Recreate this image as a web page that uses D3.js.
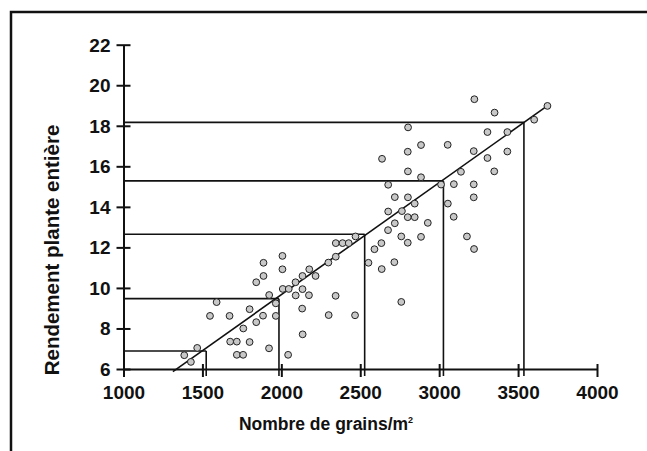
<!DOCTYPE html>
<html>
<head>
<meta charset="utf-8">
<script src="https://cdn.jsdelivr.net/npm/d3@7"></script>
<style>
  html, body { margin: 0; padding: 0; background: #fff; }
  svg { display: block; }
  text { font-family: "Liberation Sans", Arial, sans-serif; font-weight: bold; fill: #111; }
</style>
</head>
<body>
<svg id="chart" width="647" height="451"></svg>
<script>
// ---- data ----
const grains = [1385,1427,1467,1548,1590,1672,1676,1718,1718,1758,1759,1799,1799,1841,1841,1887,1887,1884,1923,1922,
  1965,1965,2007,2007,2009,2047,2043,2090,2091,2134,2134,2132,2135,2175,2177,2217,2300,2298,2345,2345,
  2388,2427,2344,2467,2470,2552,2590,2634,2636,2638,2677,2677,2676,2719,2719,2716,2760,2764,2760,2803,
  2801,2802,2802,2801,2801,2845,2845,2885,2885,2885,2928,3012,3054,3055,3093,3092,3138,3176,3223,3219,
  3219,3219,3221,3306,3306,3351,3349,3432,3432,3602,3686];
const rendement = [6.68,6.35,7.04,8.62,9.30,8.62,7.35,7.35,6.70,6.70,8.00,8.95,7.33,8.31,10.28,11.24,10.59,8.63,9.65,7.02,
  9.24,8.62,11.58,10.92,9.95,9.95,6.70,10.28,9.63,10.59,9.94,8.98,7.71,9.64,10.92,10.59,8.66,11.25,11.54,12.21,
  12.21,12.21,9.61,8.65,12.54,11.24,11.91,12.21,10.93,16.37,15.09,13.77,12.85,14.48,13.19,11.27,12.54,13.79,9.31,17.92,
  16.72,15.75,14.47,13.49,12.23,14.16,13.49,17.05,15.46,12.52,13.21,15.10,17.06,14.16,15.12,13.51,15.73,12.54,19.31,16.75,
  15.11,14.47,11.92,17.69,16.41,18.65,15.75,17.69,16.73,18.30,18.98];
// regression line end points
const lineX = [1313, 3687];
const lineY = [5.87, 18.99];
// reading guides (grains -> rendement)
const guideX = [1524, 1985, 2528, 3027, 3537];
const guideY = [6.89, 9.47, 12.65, 15.28, 18.17];
// axis ticks
const xTicks = [1000, 1500, 2000, 2500, 3000, 3500, 4000];
const yTicks = [6, 8, 10, 12, 14, 16, 18, 20, 22];

// ---- layout ----
const svg = d3.select("#chart");
const x = d3.scaleLinear().domain([1000, 4000]).range([123.5, 597]);
const y = d3.scaleLinear().domain([6, 22]).range([369, 44.7]);

// frame (left + top only)
svg.append("path")
  .attr("d", "M11,451 L11,12 L647,12")
  .attr("fill", "none").attr("stroke", "#111").attr("stroke-width", 2.5);

// guides
const g = svg.append("g").attr("stroke", "#111").attr("stroke-width", 1.6).attr("fill", "none");
guideX.forEach((gx, i) => {
  g.append("line").attr("x1", x(1000)).attr("x2", x(gx)).attr("y1", y(guideY[i])).attr("y2", y(guideY[i]));
  g.append("line").attr("x1", x(gx)).attr("x2", x(gx)).attr("y1", y(6) + 7).attr("y2", y(guideY[i]));
});

// x axis
const xAxis = d3.axisBottom(x).tickValues(xTicks).tickFormat(d3.format("d")).tickSize(0).tickPadding(0);
const gx = svg.append("g").attr("transform", `translate(0,${y(6)})`).call(xAxis);
gx.select(".domain").attr("stroke", "#111").attr("stroke-width", 2);
gx.selectAll(".tick").append("line").attr("y1", -5).attr("y2", 8).attr("stroke", "#111").attr("stroke-width", 2);
gx.selectAll(".tick text").attr("y", 30).attr("dy", null)
  .style("font-size", "19px").style("font-family", "'Liberation Sans', Arial, sans-serif").style("font-weight", "bold").attr("fill", "#111");

// y axis
const yAxis = d3.axisLeft(y).tickValues(yTicks).tickFormat(d3.format("d")).tickSize(0).tickPadding(0);
const gy = svg.append("g").attr("transform", `translate(${x(1000)},0)`).call(yAxis);
gy.select(".domain").attr("stroke", "#111").attr("stroke-width", 2);
gy.selectAll(".tick").append("line").attr("x1", -7).attr("x2", 7).attr("stroke", "#111").attr("stroke-width", 2);
gy.selectAll(".tick text").attr("x", -13).attr("dy", "0.34em")
  .style("font-size", "19px").style("font-family", "'Liberation Sans', Arial, sans-serif").style("font-weight", "bold").attr("fill", "#111");

// regression line
svg.append("line")
  .attr("x1", x(lineX[0])).attr("y1", y(lineY[0]))
  .attr("x2", x(lineX[1])).attr("y2", y(lineY[1]))
  .attr("stroke", "#111").attr("stroke-width", 1.6);

// points
svg.append("g").selectAll("circle")
  .data(grains.map((v, i) => [v, rendement[i]]))
  .join("circle")
  .attr("cx", d => x(d[0])).attr("cy", d => y(d[1])).attr("r", 3.4)
  .attr("fill", "#c8c8c8").attr("stroke", "#222").attr("stroke-width", 1);

// titles
const xt = svg.append("text").attr("x", 326).attr("y", 430).attr("text-anchor", "middle").style("font-size", "17.5px");
xt.append("tspan").text("Nombre de grains/m");
xt.append("tspan").attr("dy", -7).style("font-size", "9px").text("2");

svg.append("text")
  .attr("transform", "translate(59,250) rotate(-90)")
  .attr("text-anchor", "middle").style("font-size", "20.5px")
  .text("Rendement plante entière");
</script>
</body>
</html>
